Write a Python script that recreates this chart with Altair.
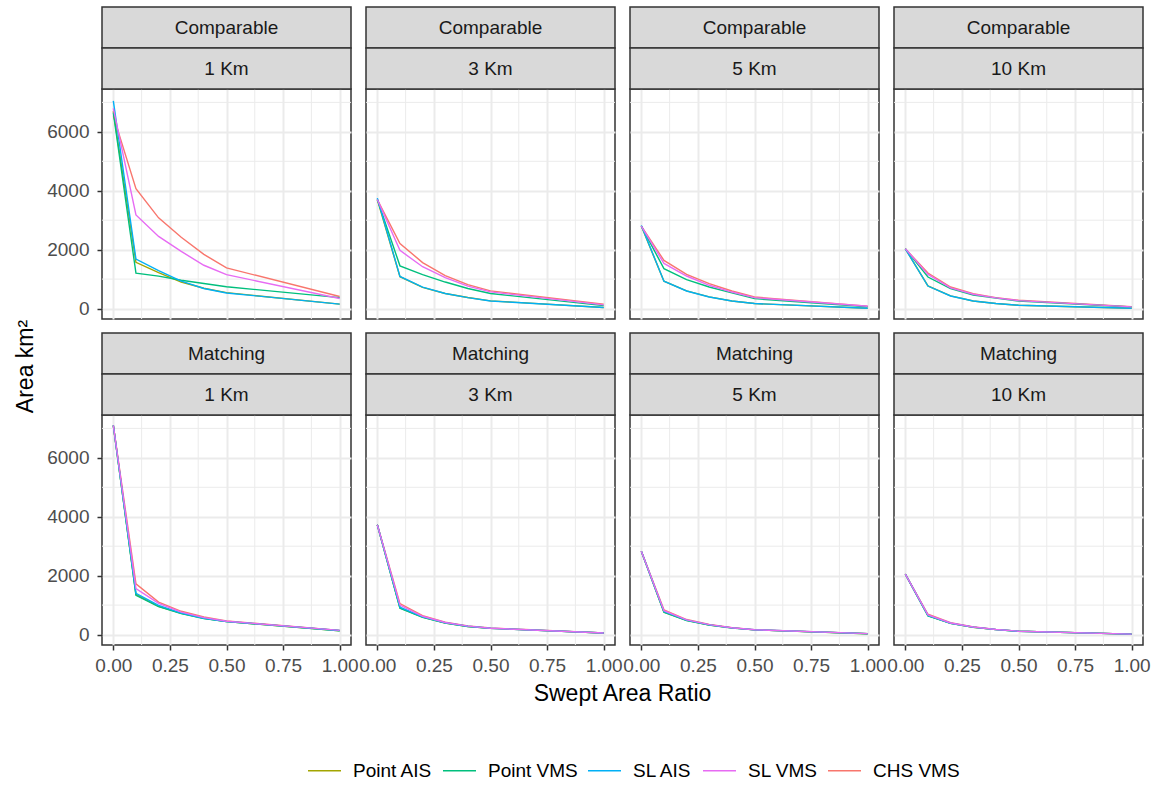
import altair as alt
import pandas as pd

FONT = "Liberation Sans"

# ---------------- data ----------------
ratio = [0.0, 0.1, 0.2, 0.3, 0.4, 0.5, 1.0]
types = ["Comparable", "Matching"]
distances = ["1 Km", "3 Km", "5 Km", "10 Km"]
draw_order = ["CHS VMS", "Point AIS", "Point VMS", "SL AIS", "SL VMS"]
legend_order = ["Point AIS", "Point VMS", "SL AIS", "SL VMS", "CHS VMS"]
legend_colors = ["#A3A500", "#00BF7D", "#00B0F6", "#E76BF3", "#F8766D"]

x_major = [0, 0.25, 0.5, 0.75, 1.0]
x_minor = [0.125, 0.375, 0.625, 0.875]
y_major = [0, 2000, 4000, 6000]
y_minor = [1000, 3000, 5000, 7000]

# Comparable (series order: CHS VMS, Point AIS, Point VMS, SL AIS, SL VMS)
comp_1_chs = [6550, 4070, 3080, 2420, 1840, 1380, 410]
comp_1_pais = [6700, 1570, 1220, 900, 690, 540, 150]
comp_1_pvms = [6650, 1200, 1100, 960, 850, 740, 370]
comp_1_slais = [7050, 1680, 1290, 930, 680, 530, 150]
comp_1_slvms = [6800, 3180, 2450, 1940, 1470, 1150, 340]

comp_3_chs = [3700, 2210, 1560, 1120, 810, 600, 150]
comp_3_pais = [3700, 1080, 720, 510, 375, 260, 35]
comp_3_pvms = [3700, 1450, 1150, 900, 680, 510, 100]
comp_3_slais = [3750, 1090, 725, 510, 372, 258, 35]
comp_3_slvms = [3700, 1975, 1420, 1050, 760, 565, 125]

comp_5_chs = [2800, 1634, 1160, 846, 596, 393, 80]
comp_5_pais = [2800, 930, 600, 395, 258, 170, 12]
comp_5_pvms = [2800, 1354, 980, 733, 530, 335, 60]
comp_5_slais = [2820, 930, 596, 393, 257, 169, 10]
comp_5_slvms = [2800, 1533, 1105, 790, 560, 370, 78]

comp_10_chs = [2030, 1205, 731, 508, 372, 281, 60]
comp_10_pais = [2030, 770, 430, 258, 170, 112, 10]
comp_10_pvms = [2030, 1070, 677, 462, 355, 255, 50]
comp_10_slais = [2030, 765, 427, 257, 169, 112, 10]
comp_10_slvms = [2030, 1160, 700, 485, 362, 270, 58]

# Matching
match_1_chs = [7100, 1720, 1100, 790, 600, 460, 140]
match_1_pais = [7100, 1360, 960, 720, 550, 440, 130]
match_1_pvms = [7100, 1330, 950, 710, 545, 440, 130]
match_1_slais = [7100, 1400, 990, 730, 555, 445, 135]
match_1_slvms = [7100, 1560, 1060, 760, 575, 450, 140]

match_3_chs = [3730, 1050, 640, 420, 290, 220, 55]
match_3_pais = [3730, 900, 590, 390, 275, 210, 50]
match_3_pvms = [3730, 890, 585, 390, 275, 210, 50]
match_3_slais = [3730, 930, 600, 400, 280, 212, 52]
match_3_slvms = [3730, 1000, 620, 410, 285, 215, 55]

match_5_chs = [2830, 840, 510, 340, 235, 165, 30]
match_5_pais = [2830, 760, 480, 325, 225, 160, 28]
match_5_pvms = [2830, 755, 478, 322, 224, 158, 28]
match_5_slais = [2830, 780, 490, 330, 228, 162, 30]
match_5_slvms = [2830, 810, 500, 335, 232, 164, 30]

match_10_chs = [2050, 690, 400, 260, 175, 115, 15]
match_10_pais = [2050, 640, 380, 250, 168, 110, 14]
match_10_pvms = [2050, 635, 378, 248, 167, 110, 14]
match_10_slais = [2050, 650, 385, 252, 170, 112, 15]
match_10_slvms = [2050, 670, 392, 256, 172, 114, 15]

panel_series = {
    ("Comparable", "1 Km"): [comp_1_chs, comp_1_pais, comp_1_pvms, comp_1_slais, comp_1_slvms],
    ("Comparable", "3 Km"): [comp_3_chs, comp_3_pais, comp_3_pvms, comp_3_slais, comp_3_slvms],
    ("Comparable", "5 Km"): [comp_5_chs, comp_5_pais, comp_5_pvms, comp_5_slais, comp_5_slvms],
    ("Comparable", "10 Km"): [comp_10_chs, comp_10_pais, comp_10_pvms, comp_10_slais, comp_10_slvms],
    ("Matching", "1 Km"): [match_1_chs, match_1_pais, match_1_pvms, match_1_slais, match_1_slvms],
    ("Matching", "3 Km"): [match_3_chs, match_3_pais, match_3_pvms, match_3_slais, match_3_slvms],
    ("Matching", "5 Km"): [match_5_chs, match_5_pais, match_5_pvms, match_5_slais, match_5_slvms],
    ("Matching", "10 Km"): [match_10_chs, match_10_pais, match_10_pvms, match_10_slais, match_10_slvms],
}

# ---------------- layout ----------------
PW = 249      # panel width
PH = 230      # panel plot height
SH = 41       # strip height
FS = 19

xscale = alt.Scale(domain=[-0.05, 1.05], nice=False, zero=False)
yscale = alt.Scale(domain=[-355, 7455], nice=False, zero=False)

legend = alt.Legend(
    orient="none", direction="horizontal", legendX=205, legendY=664,
    title=None, symbolType="stroke", symbolSize=1089, symbolStrokeWidth=1.6,
    labelFontSize=FS, labelFont=FONT, labelColor="#000000", labelOffset=11,
    columnPadding=6, labelLimit=300,
)


def strip_layers(label, level):
    top = -2 * SH + level * SH
    d = pd.DataFrame({"t": [label]})
    rect = alt.Chart(d).mark_rect(fill="#D9D9D9", stroke="#333333", strokeWidth=1.5).encode(
        x=alt.value(0), x2=alt.value(PW), y=alt.value(top), y2=alt.value(top + SH))
    txt = alt.Chart(d).mark_text(fontSize=FS, font=FONT, color="#1A1A1A",
                                 baseline="middle", align="center").encode(
        text="t:N", x=alt.value(PW / 2), y=alt.value(top + SH / 2))
    return [rect, txt]


def panel(t, d, col, row):
    recs = []
    for name, vals in zip(draw_order, panel_series[(t, d)]):
        for r, v in zip(ratio, vals):
            recs.append({"ratio": r, "area": v, "method": name})
    df = pd.DataFrame(recs)

    show_x = row == 1
    show_y = col == 0

    xaxis_kw = dict(values=x_major, format=".2f", grid=True, gridColor="#EBEBEB", gridWidth=2,
                    domain=False, labels=show_x, ticks=show_x, tickSize=5, tickColor="#333333",
                    tickWidth=1.5, labelFontSize=FS, labelFont=FONT, labelColor="#4D4D4D",
                    labelPadding=6, labelFlush=False, title=None)
    if show_x and col == 0:
        xaxis_kw.update(title="Swept Area Ratio", titleX=520, titleY=48, titleAlign="center",
                        titleBaseline="middle", titleFontSize=23, titleFont=FONT,
                        titleFontWeight="normal", titleColor="#000000")
    yaxis_kw = dict(values=y_major, format="d", grid=True, gridColor="#EBEBEB", gridWidth=2,
                    domain=False, labels=show_y, ticks=show_y, tickSize=5, tickColor="#333333",
                    tickWidth=1.5, labelFontSize=FS, labelFont=FONT, labelColor="#4D4D4D",
                    labelPadding=8, title=None)
    if show_y and row == 0:
        yaxis_kw.update(title="Area km²", titleX=-77, titleY=277, titleAngle=270,
                        titleAlign="center", titleBaseline="middle", titleFontSize=23,
                        titleFont=FONT, titleFontWeight="normal", titleColor="#000000")
    xaxis = alt.Axis(**xaxis_kw)
    yaxis = alt.Axis(**yaxis_kw)

    minor_x = alt.Chart(pd.DataFrame({"v": x_minor})).mark_rule(
        color="#EBEBEB", strokeWidth=1).encode(x=alt.X("v:Q", scale=xscale, axis=xaxis))
    minor_y = alt.Chart(pd.DataFrame({"v": y_minor})).mark_rule(
        color="#EBEBEB", strokeWidth=1).encode(y=alt.Y("v:Q", scale=yscale, axis=yaxis))

    lines = alt.Chart(df).mark_line(strokeWidth=1.4).encode(
        x=alt.X("ratio:Q", scale=xscale, axis=xaxis),
        y=alt.Y("area:Q", scale=yscale, axis=yaxis),
        color=alt.Color("method:N", scale=alt.Scale(domain=legend_order, range=legend_colors),
                        legend=legend),
        detail="method:N",
    )
    layers = [minor_x, minor_y, lines] + strip_layers(t, 0) + strip_layers(d, 1)
    return alt.layer(*layers).properties(width=PW, height=PH)


units = []
for ri, t in enumerate(types):
    for ci, d in enumerate(distances):
        units.append(panel(t, d, ci, ri))

chart = (
    alt.concat(*units, columns=4, spacing={"row": 96, "column": 15}, bounds="flush")
    .properties(padding={"left": 13, "top": 5, "right": 5, "bottom": 5}, background="#FFFFFF")
    .configure(font=FONT)
    .configure_view(stroke="#333333", strokeWidth=1.5)
)

chart.save("out.html", embed_options={"renderer": "svg", "actions": False})
